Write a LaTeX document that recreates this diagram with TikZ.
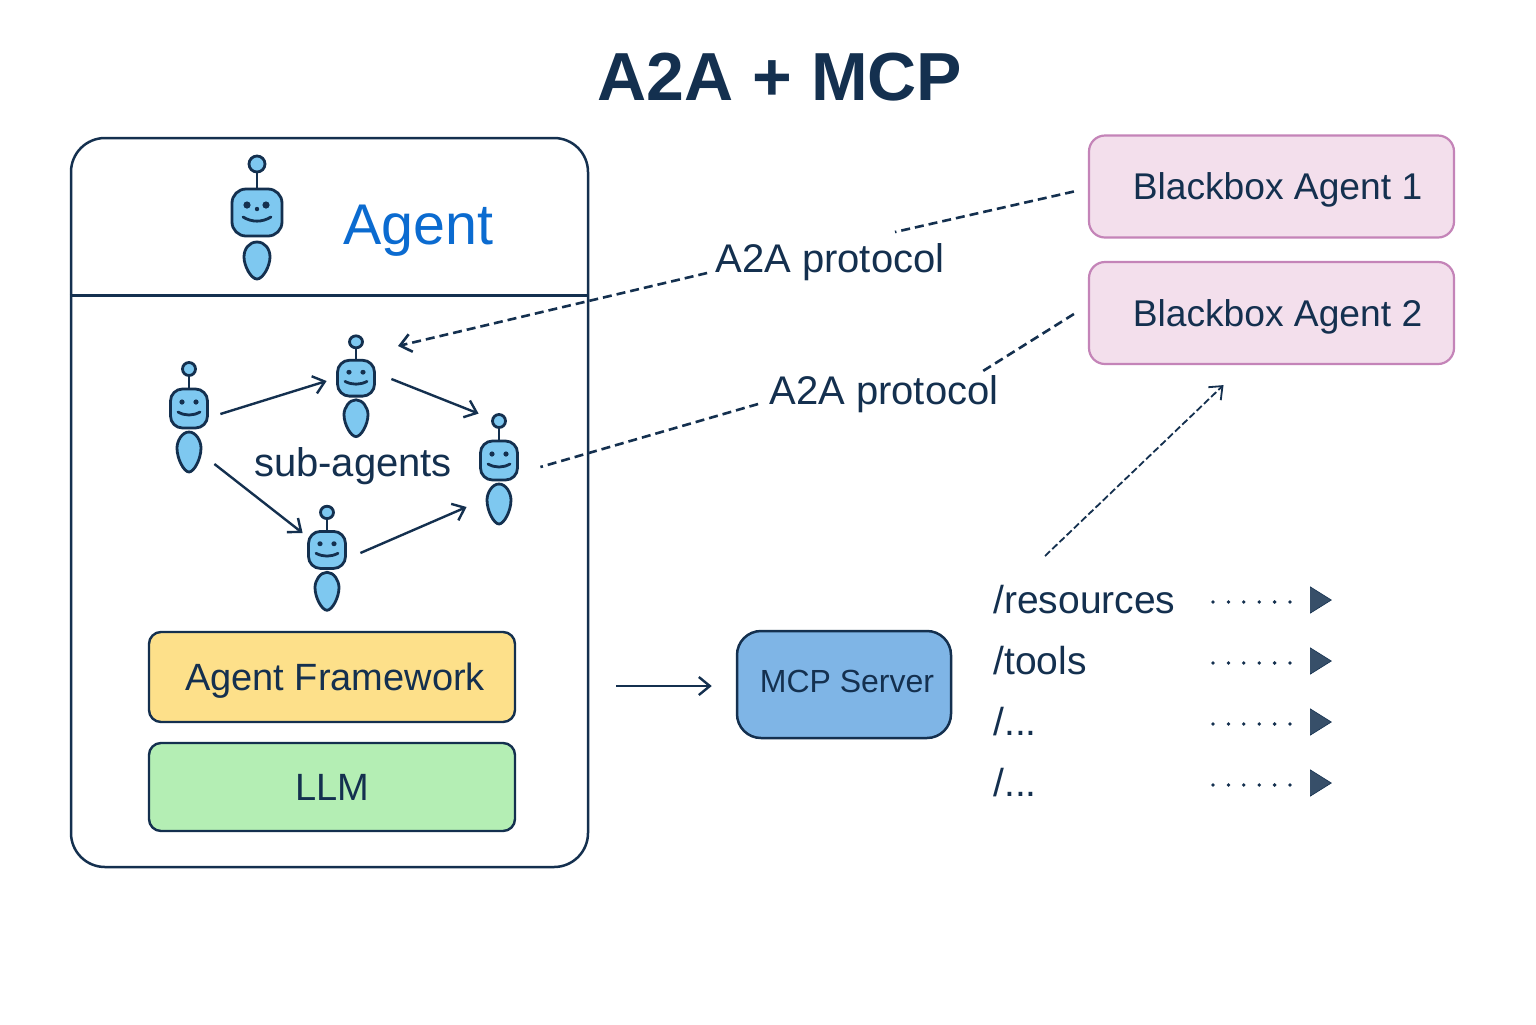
\documentclass[tikz,border=0pt]{standalone}
\usepackage{fontspec}
\setmainfont{Liberation Sans}
\usetikzlibrary{shapes.geometric,arrows.meta}
\definecolor{inkblue}{HTML}{14304F}
\definecolor{robotblue}{HTML}{7EC8F0}
\definecolor{agentblue}{HTML}{0B6BD0}
\definecolor{bbfill}{HTML}{F3DFEC}
\definecolor{bbline}{HTML}{C484B8}
\definecolor{frameyellow}{HTML}{FDE08A}
\definecolor{llmgreen}{HTML}{B4EEB4}
\definecolor{mcpblue}{HTML}{7FB5E6}
\newcommand{\etcpath}{...}
\tikzset{
  robot/.pic={
    \draw[robotline,fill=robotblue] (0,-54) circle (8);
    \draw[robotline] (0,-46)--(0,-30);
    \draw[robotline,fill=robotblue,rounded corners=7pt] (-25,-29) rectangle (25,18);
    \fill[inkblue] (-10,-13) circle (3.6) (9,-13) circle (3.6) (0,-9) circle (2.2);
    \draw[robotline,line cap=round] (-14,-1) .. controls (-5,4.5) and (5,4.5) .. (14,-1);
    \draw[robotline,fill=robotblue] (0,24) .. controls (8,24) and (13,31) .. (13,39)
      .. controls (13,48) and (6,61) .. (0,61) .. controls (-6,61) and (-13,48) .. (-13,39)
      .. controls (-13,31) and (-8,24) .. (0,24) -- cycle;
  },
  miniagent/.pic={
    \draw[robotline,fill=robotblue] (0,-48) circle (6.5);
    \draw[robotline] (0,-41)--(0,-28);
    \draw[robotline,fill=robotblue,rounded corners=6pt] (-18.5,-28) rectangle (18.5,11);
    \fill[inkblue] (-7,-15) circle (2.6) (7,-15) circle (2.6);
    \draw[robotline,line cap=round] (-11,-5) .. controls (-4,-1) and (4,-1) .. (11,-5);
    \draw[robotline,fill=robotblue] (0,15) .. controls (7,15) and (12,24) .. (12,31)
      .. controls (12,42) and (5,55) .. (0,55) .. controls (-5,55) and (-12,42) .. (-12,31)
      .. controls (-12,24) and (-7,15) .. (0,15) -- cycle;
  },
  robotline/.style={draw=inkblue,line width=1.4pt},
  robotbox/.style={inner sep=0pt,minimum width=20pt,minimum height=55pt},
  blackbox/.style={draw=bbline,fill=bbfill,line width=1.1pt,rounded corners=8pt,
    minimum width=182.5pt,minimum height=51pt,text=inkblue,text height=13.3pt,text depth=0pt,font=\fontsize{18.6}{22}\selectfont},
  stackbox/.style={draw=inkblue,line width=1.2pt,rounded corners=6pt,minimum width=183pt,
    text=inkblue,text height=13.6pt,text depth=0pt,font=\fontsize{19}{23}\selectfont},
  toolrow/.style={anchor=west,inner sep=0pt,text=inkblue,font=\fontsize{19.5}{23}\selectfont},
  protolabel/.style={inner sep=0pt,text=inkblue,font=\fontsize{20}{24}\selectfont},
  flow/.style={draw=inkblue,line width=1.2pt,-{Straight Barb[length=5.5pt,width=9pt]}},
  linkdash/.style={draw=inkblue,line width=1.3pt,dash pattern=on 4.5pt off 2.5pt},
  dotrow/.style={draw=inkblue,line width=1.9pt,line cap=round,dash pattern=on 0pt off 7.7pt},
  playtri/.style={isosceles triangle,isosceles triangle apex angle=64,fill=inkblue!85!white,draw=inkblue,line width=.3pt,
    inner sep=0pt,minimum width=13pt,minimum height=10.5pt,anchor=west},
}
\begin{document}
\begin{tikzpicture}[x=0.5pt,y=-0.5pt]
\useasboundingbox (0,0) rectangle (1536,1024);
\fill[white] (0,0) rectangle (1536,1024);
\node[text=inkblue,inner sep=0pt,font=\fontsize{34}{40}\selectfont\bfseries] (title) at (780,77) {A2A + MCP};

% agent box
\node[draw=inkblue,line width=1.25pt,rounded corners=17pt,minimum width=258.5pt,minimum height=364.5pt] (agentbox) at (329.5,502.5) {};
\draw[inkblue,line width=1.1pt] ([yshift=103.5pt]agentbox.west) -- ([yshift=103.5pt]agentbox.east);
\pic at (257,218) {robot};
\node[text=agentblue,inner sep=0pt,font=\fontsize{28.7}{32}\selectfont] (agenttitle) at (418,231) {Agent};

% sub-agents
\foreach \nm/\px/\py/\sy in {robA/189/417/1,robB/356/386/.92,robC/499/469/1,robD/327/558/.95}{
  \node[robotbox] (\nm) at (\px,\py) {};
  \pic[yscale=\sy] at (\nm) {miniagent};
}
\node[protolabel] (subagents) at (353,466) {sub-agents};
\draw[flow] ([shift={(11,-3)}]robA.east) -- ([shift={(-9,-5)}]robB.west);
\draw[flow] ([shift={(15,-7)}]robB.east) -- (robC.north west);
\draw[flow] ([shift={(5,47)}]robA.east) -- ([shift={(-4,-25)}]robD.west);
\draw[flow] ([shift={(13,-5)}]robD.east) -- ([shift={(-12,38)}]robC.west);

% stack
\node[stackbox,fill=frameyellow,minimum height=45pt] (framework) at (332,677) {\hspace{3pt}Agent Framework};
\node[stackbox,fill=llmgreen,minimum height=44pt] (llm) at (332,787) {LLM};

% blackbox agents
\node[blackbox] (bbone) at (1271.5,186.5) {\hspace{6pt}Blackbox Agent 1};
\node[blackbox] (bbtwo) at (1271.5,313) {\hspace{6pt}Blackbox Agent 2};
\node[protolabel] (protoone) at (830,262) {A2A protocol};
\node[protolabel] (prototwo) at (884,394) {A2A protocol};
\draw[linkdash] ([shift={(-14,5)}]bbone.west) -- ([shift={(65,-30)}]protoone.center);
\draw[linkdash,-{Straight Barb[length=5.5pt,width=9pt]}] ([shift={(-8,11)}]protoone.west) -- ([shift={(42,-40)}]robB.center);
\draw[linkdash] ([shift={(-14,1)}]bbtwo.west) -- ([shift={(99,-23)}]prototwo.center);
\draw[linkdash] ([shift={(-11,10)}]prototwo.west) -- ([shift={(21,-2)}]robC.east);

% mcp
\node[draw=inkblue,line width=1.25pt,fill=mcpblue,rounded corners=12pt,minimum width=107pt,minimum height=53.5pt,
  text=inkblue,text height=11.5pt,text depth=3.6pt,font=\fontsize{16}{20}\selectfont] (mcp) at (844,684.5) {\hspace{3pt}MCP Server};
\draw[flow] ([shift={(27,1.5)}]agentbox.east |- mcp) -- ([shift={(-24,1.5)}]mcp.west);

% tool rows
\foreach \nm/\ry/\rt in {rowA/600/resources,rowB/661/tools,rowC/722/\etcpath,rowD/783/\etcpath}{
  \node[toolrow] (\nm) at (993,\ry) {/\rt};
  \node[playtri] (\nm tri) at (1310,\ry) {};
  \draw[dotrow] ([shift={(-97,2)}]\nm tri.west) -- ([shift={(-18,2)}]\nm tri.west);
}
\draw[linkdash,line width=.9pt,dash pattern=on 3.5pt off 1.5pt,-{Straight Barb[length=5.5pt,width=9pt]}] ([shift={(52,-44)}]rowA.west) -- ([shift={(-48,20)}]bbtwo.south);
\end{tikzpicture}
\end{document}
